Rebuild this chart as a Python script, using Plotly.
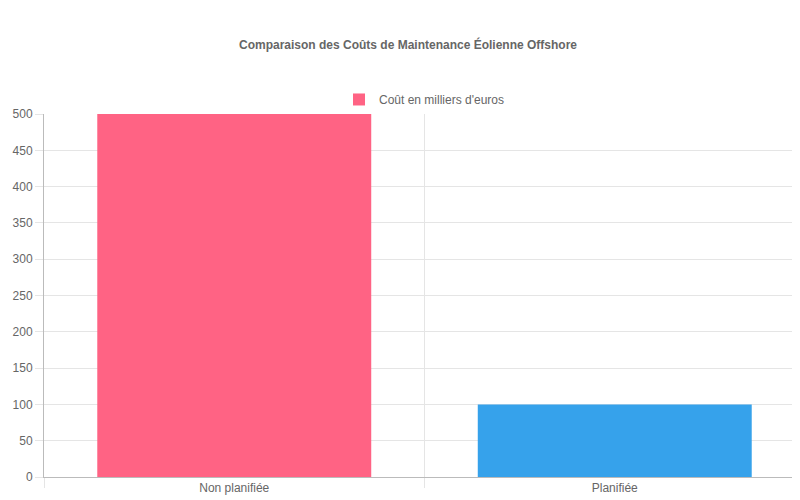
import plotly.graph_objects as go

categories = ["Non planifiée", "Planifiée"]
values = [500, 100]
colors = ["#FF6384", "#36A2EB"]

fig = go.Figure(go.Bar(
    x=categories, y=values, marker=dict(color=colors, line=dict(width=0)),
    width=0.72, name="Coût en milliers d'euros", showlegend=True,
))
fig.update_layout(
    width=800, height=500,
    margin=dict(l=36, r=3, t=106, b=31),
    paper_bgcolor="white", plot_bgcolor="white",
    font=dict(family="Liberation Sans, Arial, sans-serif", size=12, color="#666"),
    title=dict(text="<b>Comparaison des Coûts de Maintenance Éolienne Offshore</b>",
               x=0.5, xanchor="center", y=0.926, yanchor="middle",
               font=dict(size=12, color="#666")),
    legend=dict(orientation="h", x=0.5, xanchor="center", y=1.04, yanchor="middle",
                font=dict(size=12, color="#666")),
    bargap=0.28,
)
fig.update_xaxes(tickson="boundaries", showgrid=True, gridcolor="#e5e5e5",
                 ticks="outside", ticklen=10, tickcolor="#e5e5e5",
                 showline=True, linecolor="#bbb", mirror=False)
fig.update_yaxes(range=[0, 500], dtick=50, showgrid=True, gridcolor="#e5e5e5",
                 ticks="outside", ticklen=8, tickcolor="#e5e5e5",
                 showline=True, linecolor="#bbb", zeroline=False)
fig.write_html("out.html")
